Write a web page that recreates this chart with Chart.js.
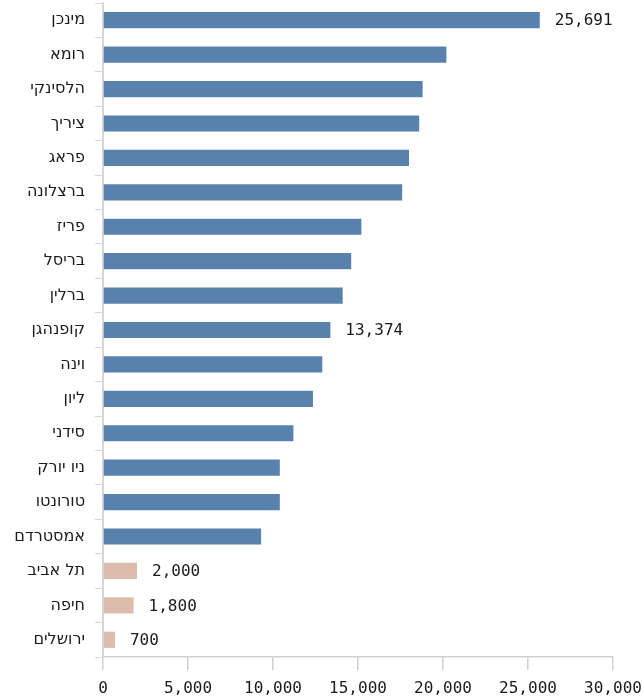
<!DOCTYPE html>
<html lang="he">
<head>
<meta charset="utf-8">
<script src="https://cdn.jsdelivr.net/npm/chart.js@4/dist/chart.umd.min.js"></script>
<style>
  html, body { margin: 0; padding: 0; background: #ffffff; }
  #wrap { width: 644px; height: 698px; }
</style>
</head>
<body>
<div id="wrap"><canvas id="chart" dir="rtl"></canvas></div>
<script>
// Cities, top to bottom
const cities = [
  'מינכן', 'רומא', 'הלסינקי', 'ציריך', 'פראג', 'ברצלונה', 'פריז', 'בריסל',
  'ברלין', 'קופנהגן', 'וינה', 'ליון', 'סידני', 'ניו יורק', 'טורונטו',
  'אמסטרדם', 'תל אביב', 'חיפה', 'ירושלים'
];
// Value per city
const values = [
  25691, 20200, 18800, 18600, 18000, 17600, 15200, 14600,
  14100, 13374, 12900, 12350, 11200, 10400, 10400,
  9300, 2000, 1800, 700
];
// Israeli cities are highlighted
const israeli = ['תל אביב', 'חיפה', 'ירושלים'];
// Cities whose value is printed beside the bar
const labelledCities = ['מינכן', 'קופנהגן', 'תל אביב', 'חיפה', 'ירושלים'];
// x-axis ticks
const xTicks = [0, 5000, 10000, 15000, 20000, 25000, 30000];

const BLUE = '#5882ac';
const SAND = '#dcbcab';
const FONT = "'DejaVu Sans Mono', 'DejaVu Sans', monospace";

const fmt = v => v.toLocaleString('en-US');

// Hebrew city names are laid out right-to-left
const rtlText = {
  id: 'rtlText',
  beforeDraw(chart) { chart.ctx.direction = 'rtl'; }
};

const valueLabels = {
  id: 'valueLabels',
  afterDatasetsDraw(chart) {
    const ctx = chart.ctx;
    const meta = chart.getDatasetMeta(0);
    ctx.save();
    ctx.direction = 'ltr';
    ctx.font = '16px ' + FONT;
    ctx.fillStyle = '#1a1a1a';
    ctx.textAlign = 'left';
    ctx.textBaseline = 'middle';
    meta.data.forEach((bar, i) => {
      if (!labelledCities.includes(cities[i])) return;
      ctx.fillText(fmt(values[i]), bar.x + 15, bar.y + 1);
    });
    ctx.restore();
  }
};

new Chart(document.getElementById('chart'), {
  type: 'bar',
  data: {
    labels: cities,
    datasets: [{
      data: values,
      backgroundColor: cities.map(c => israeli.includes(c) ? SAND : BLUE),
      barPercentage: 0.47,
      categoryPercentage: 1.0,
      borderWidth: 0
    }]
  },
  options: {
    indexAxis: 'y',
    responsive: true,
    maintainAspectRatio: false,
    animation: false,
    layout: { padding: { top: 3, right: 31, bottom: 0, left: 0 } },
    plugins: {
      legend: { display: false },
      tooltip: { enabled: false }
    },
    scales: {
      x: {
        min: 0,
        max: 30000,
        afterBuildTicks(scale) { scale.ticks = xTicks.map(v => ({ value: v })); },
        afterFit(scale) {
          scale.height = 41;
          scale.paddingLeft = 0;
          scale.paddingRight = 0;
        },
        grid: {
          drawOnChartArea: false,
          drawTicks: true,
          tickLength: 13,
          color: '#cfcfcf',
          lineWidth: 1.5
        },
        border: { display: true, color: '#cfcfcf', width: 1.5 },
        ticks: {
          padding: 9,
          color: '#1a1a1a',
          font: { family: FONT, size: 16 },
          maxRotation: 0,
          callback: v => fmt(v)
        }
      },
      y: {
        afterFit(scale) {
          scale.width = 103;
          scale.paddingTop = 0;
          scale.paddingBottom = 0;
        },
        grid: {
          offset: true,
          drawOnChartArea: false,
          drawTicks: true,
          tickLength: 8,
          color: '#d6d6d6',
          lineWidth: 1
        },
        border: { display: true, color: '#d6d6d6', width: 2 },
        ticks: {
          padding: 10,
          color: '#1a1a1a',
          font: { family: "'DejaVu Sans', sans-serif", size: 16 },
          autoSkip: false
        }
      }
    }
  },
  plugins: [rtlText, valueLabels]
});
</script>
</body>
</html>
